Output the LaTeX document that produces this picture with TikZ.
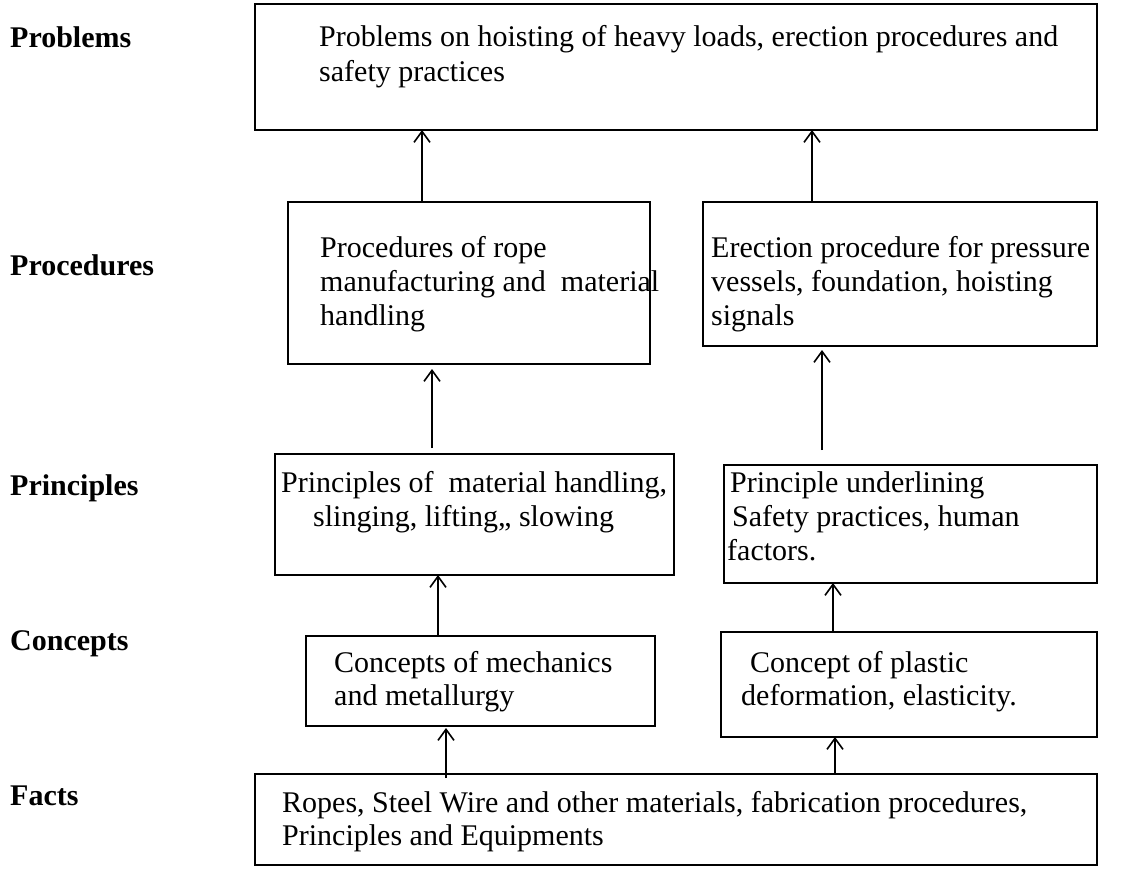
\documentclass[tikz,border=0pt]{standalone}
\usepackage{fontspec}
\setmainfont{Liberation Serif}
\usetikzlibrary{arrows.meta}
\begin{document}
\begin{tikzpicture}[x=1pt,y=-1pt,
  box/.style={draw, line width=1.8pt, inner sep=0pt, outer sep=0pt},
  txt/.style={anchor=base west, inner sep=0pt, font=\fontsize{30}{34.5}\selectfont},
  lbl/.style={anchor=base west, inner sep=0pt, font=\fontsize{30}{34.5}\selectfont\bfseries},
  arr/.style={line width=1.6pt, -{Straight Barb[length=11pt,width=16pt]}}]
\useasboundingbox (0,0) rectangle (1142,875);

% boxes
\node[box, minimum width=842pt, minimum height=126pt] (probs) at (676,67) {};
\node[box, minimum width=362pt, minimum height=162pt] (procL) at (469,283) {};
\node[box, minimum width=394pt, minimum height=144pt] (procR) at (900,274) {};
\node[box, minimum width=399pt, minimum height=121pt] (prinL) at (474.5,514.5) {};
\node[box, minimum width=373pt, minimum height=118pt] (prinR) at (910.5,524) {};
\node[box, minimum width=349pt, minimum height=90pt] (concL) at (480.5,681) {};
\node[box, minimum width=376pt, minimum height=105pt] (concR) at (909,684.5) {};
\node[box, minimum width=842pt, minimum height=91pt] (facts) at (676,819.5) {};

% labels
\node[lbl] (lProb) at (10,48) {Problems};
\node[lbl] (lProc) at (10,275) {Procedures};
\node[lbl] (lPrin) at (10,495) {Principles};
\node[lbl] (lConc) at (10,650) {Concepts};
\node[lbl] (lFact) at (10,805) {Facts};

% texts
\node[txt] (t1a) at (319,47) {Problems on hoisting of heavy loads, erection procedures and};
\node[txt] (t1b) at (319,81.5) {safety practices};

\node[txt] (t2a) at (320,257) {Procedures of rope};
\node[txt] (t2b) at (320,291) {manufacturing and\ \ material};
\node[txt] (t2c) at (320,325) {handling};

\node[txt] (t3a) at (711,257) {Erection procedure for pressure};
\node[txt] (t3b) at (711,291) {vessels, foundation, hoisting};
\node[txt] (t3c) at (711,325) {signals};

\node[txt] (t4a) at (281,492) {Principles of\ \ material handling,};
\node[txt] (t4b) at (313,526) {slinging, lifting,, slowing};

\node[txt] (t5a) at (730,492) {Principle underlining};
\node[txt] (t5b) at (732,526) {Safety practices, human};
\node[txt] (t5c) at (727,560) {factors.};

\node[txt] (t6a) at (334,672) {Concepts of mechanics};
\node[txt] (t6b) at (334,705) {and metallurgy};

\node[txt] (t7a) at (750,672) {Concept of plastic};
\node[txt] (t7b) at (741,705) {deformation, elasticity.};

\node[txt] (t8a) at (282,812) {Ropes, Steel Wire and other materials, fabrication procedures,};
\node[txt] (t8b) at (282,845) {Principles and Equipments};

% arrow columns
\coordinate (ax1) at (422,0);
\coordinate (ax2) at (812,0);
\coordinate (ax3) at (432,0);
\coordinate (ax4) at (822,0);
\coordinate (ax5) at (438,0);
\coordinate (ax6) at (833,0);
\coordinate (ax7) at (446,0);
\coordinate (ax8) at (835,0);

\draw[arr] (ax1 |- procL.north) -- (ax1 |- probs.south);
\draw[arr] (ax2 |- procR.north) -- (ax2 |- probs.south);
\draw[arr, shorten <=6pt, shorten >=5pt] (ax3 |- prinL.north) -- (ax3 |- procL.south);
\draw[arr, shorten <=15pt, shorten >=4pt] (ax4 |- prinR.north) -- (ax4 |- procR.south);
\draw[arr] (ax5 |- concL.north) -- (ax5 |- prinL.south);
\draw[arr] (ax6 |- concR.north) -- (ax6 |- prinR.south);
\draw[arr, shorten <=-4pt, shorten >=2pt] (ax7 |- facts.north) -- (ax7 |- concL.south);
\draw[arr] (ax8 |- facts.north) -- (ax8 |- concR.south);
\end{tikzpicture}
\end{document}
